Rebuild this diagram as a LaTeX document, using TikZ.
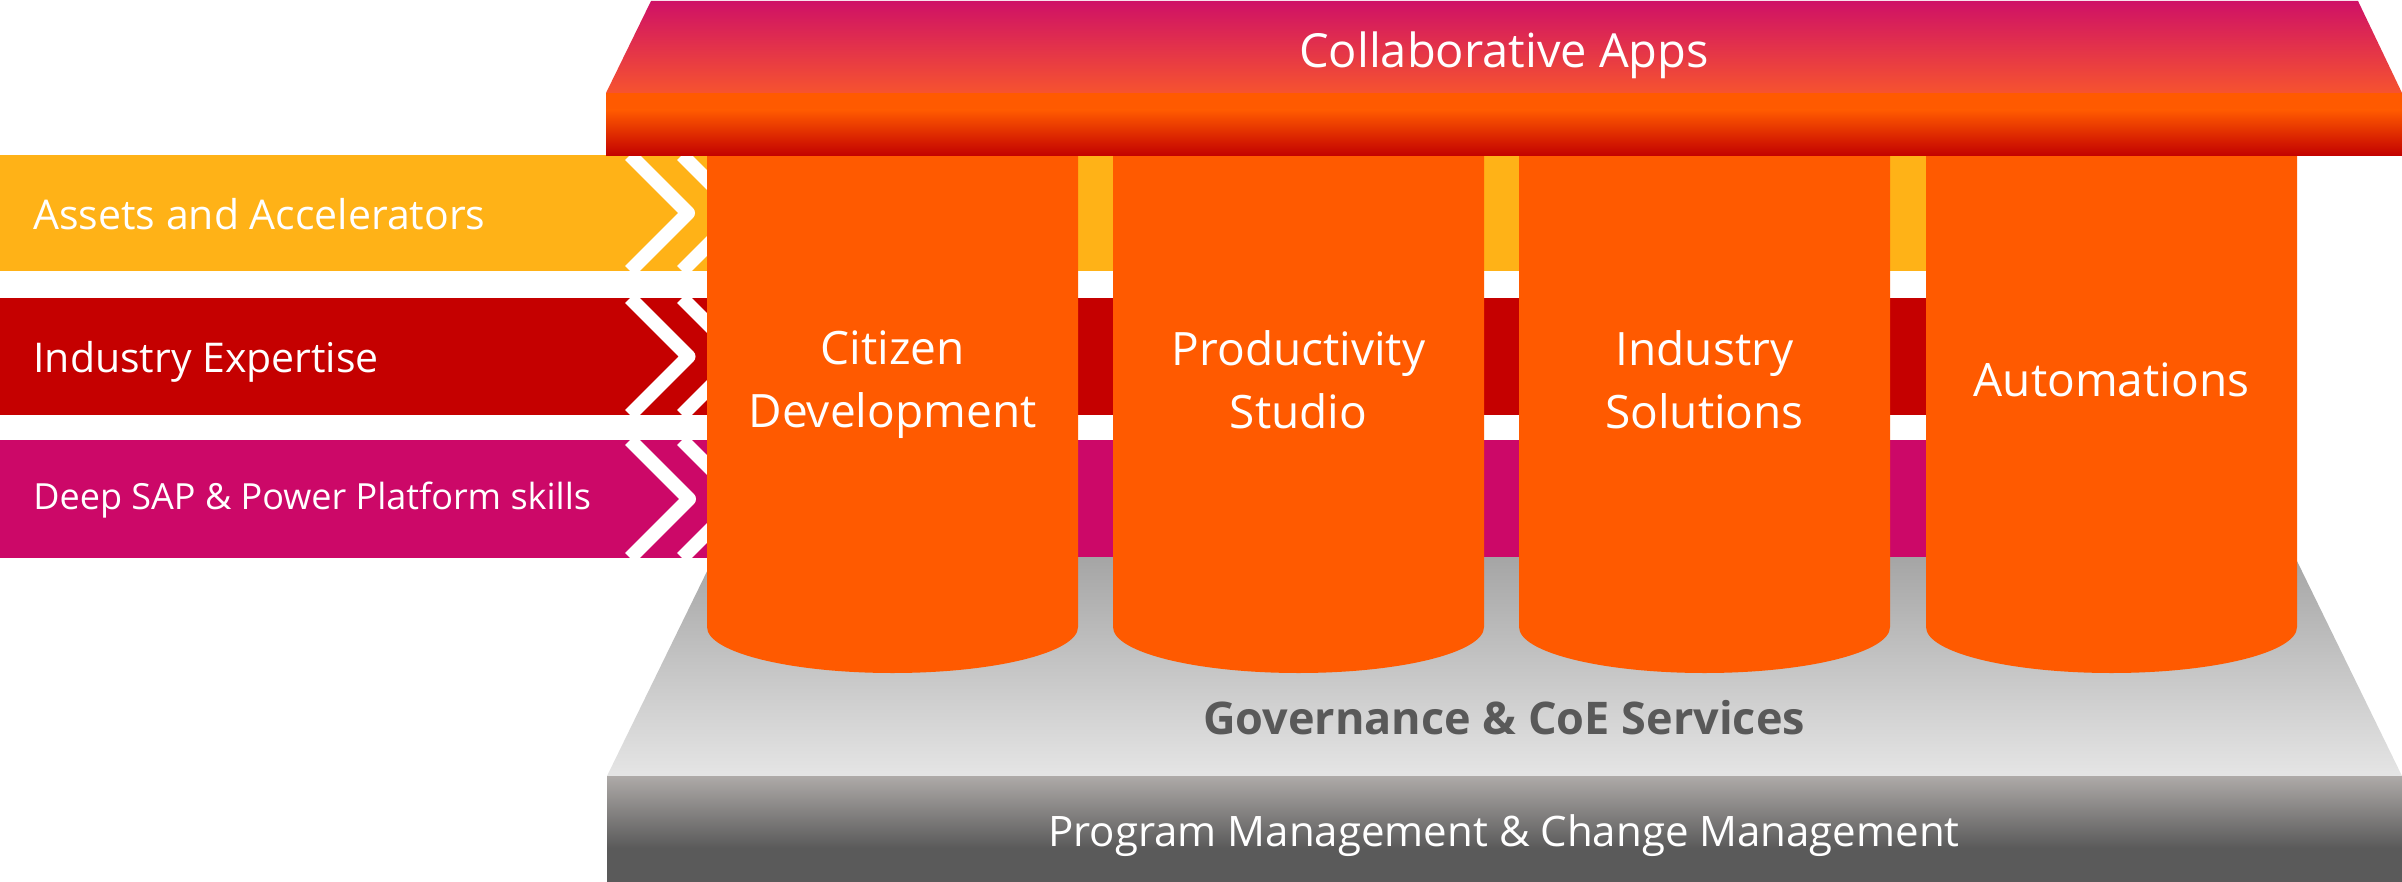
\documentclass[tikz,border=0pt]{standalone}
\usepackage{fontspec}
\setmainfont{Open Sans}

\definecolor{amarillo}{HTML}{FFB217}
\definecolor{rojo}{HTML}{C50000}
\definecolor{magenta}{HTML}{CC0868}
\definecolor{pilarnaranja}{HTML}{FF5A00}
\definecolor{techoarriba}{HTML}{CF1166}
\definecolor{techoabajo}{HTML}{F6532F}
\definecolor{techorojo}{HTML}{C20000}
\definecolor{grisarriba}{HTML}{A5A5A5}
\definecolor{grisabajo}{HTML}{E5E5E5}
\definecolor{grisclaro}{HTML}{AEAAA8}
\definecolor{grisoscuro}{HTML}{5A5A5A}
\definecolor{grisletra}{HTML}{595959}

\begin{document}
\begin{tikzpicture}[x=0.5pt,y=-0.5pt,
	pilar/.style={fill=pilarnaranja},
	pilartexto/.style={text=white,align=center,inner sep=0pt,font=\fontsize{23}{31.5}\selectfont},
	franja/.style={draw=white,line width=7pt,line join=round},
	etiqueta/.style={text=white,anchor=base west,inner sep=0pt}]
		
		\useasboundingbox (0,0) rectangle (2402,882);
		
		% Banda amarilla (pasa por detrás de los pilares)
		\begin{scope}[shift={(0,155)}]
			\fill[amarillo] (0,0) rectangle (2297,116);
			\draw[franja] (630,0) -- (688,58) -- (630,116);
			\draw[franja] (682,0) -- (740,58) -- (682,116);
			\node[etiqueta,font=\fontsize{20.5}{24}\selectfont] (activos) at (33,74) {Assets and Accelerators};
		\end{scope}
		
		% Banda roja
		\begin{scope}[shift={(0,298)}]
			\fill[rojo] (0,0) rectangle (2297,117);
			\draw[franja] (630,0) -- (688.5,58.5) -- (630,117);
			\draw[franja] (682,0) -- (740.5,58.5) -- (682,117);
			\node[etiqueta,font=\fontsize{20.5}{24}\selectfont] (experiencia) at (33,74.5) {Industry Expertise};
		\end{scope}
		
		% Banda magenta
		\begin{scope}[shift={(0,440)}]
			\fill[magenta] (0,0) rectangle (2297,118);
			\draw[franja] (630,0) -- (689,59) -- (630,118);
			\draw[franja] (682,0) -- (741,59) -- (682,118);
			\node[etiqueta,font=\fontsize{18}{22}\selectfont] (habilidades) at (33,69) {Deep SAP \& Power Platform skills};
		\end{scope}
		
		% Base gris (plataforma en perspectiva)
		\shade[top color=grisarriba,bottom color=grisabajo] (714,557) -- (2295,557) -- (2402,776) -- (607,776) -- cycle;
		\node[font=\bfseries\fontsize{22.5}{27}\selectfont,text=grisletra,anchor=base,inner sep=0pt] (gobierno) at (1504,734) {Governance \& CoE Services};
		
		% Frente de la base
		\fill[grisoscuro] (607,776) rectangle (2402,882);
		\shade[top color=grisclaro,bottom color=grisoscuro] (607,776) rectangle (2402,848);
		\node[font=\fontsize{21}{25}\selectfont,text=white,anchor=base,inner sep=0pt] (programa) at (1504,846) {Program Management \& Change Management};
		
		% Primer pilar
		\begin{scope}[shift={(707,156)}]
			\fill[pilar] (0,0) -- (0,471) arc (180:0:185.5 and 46) -- (371,0) -- cycle;
			\node[pilartexto] (ciudadano) at (185.5,229) {Citizen\\Development};
		\end{scope}
		
		% Segundo pilar
		\begin{scope}[shift={(1113,156)}]
			\fill[pilar] (0,0) -- (0,471) arc (180:0:185.5 and 46) -- (371,0) -- cycle;
			\node[pilartexto] (productividad) at (185.5,224) {Productivity\\Studio};
		\end{scope}
		
		% Tercer pilar
		\begin{scope}[shift={(1519,156)}]
			\fill[pilar] (0,0) -- (0,471) arc (180:0:185.5 and 46) -- (371,0) -- cycle;
			\node[pilartexto] (industria) at (185.5,224) {Industry\\Solutions};
		\end{scope}
		
		% Cuarto pilar
		\begin{scope}[shift={(1926,156)}]
			\fill[pilar] (0,0) -- (0,471) arc (180:0:185.5 and 46) -- (371,0) -- cycle;
			\node[pilartexto] (automatizaciones) at (185.5,224) {Automations};
		\end{scope}
		
		% Techo: cara superior y frente
		\shade[top color=techoarriba,bottom color=techoabajo] (651,1) -- (2358,1) -- (2402,93) -- (606,93) -- cycle;
		\fill[pilarnaranja] (606,93) rectangle (2402,111);
		\shade[top color=pilarnaranja,bottom color=techorojo] (606,110) rectangle (2402,156);
		\node[font=\fontsize{23.5}{28}\selectfont,text=white,anchor=base,inner sep=0pt] (colaborativas) at (1504,68) {Collaborative Apps};
		
	\end{tikzpicture}
\end{document}
